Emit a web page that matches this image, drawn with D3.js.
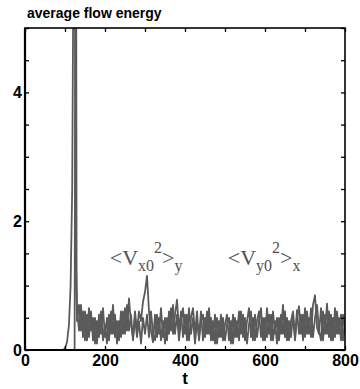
<!DOCTYPE html>
<html>
<head>
<meta charset="utf-8">
<script src="https://cdnjs.cloudflare.com/ajax/libs/d3/7.8.5/d3.min.js"></script>
<style>
  body { margin: 0; background: #fff; }
  svg { display: block; }
</style>
</head>
<body>
<div id="chart"></div>
<script>
var W = 360, H = 389;
var margin = {left: 25, right: 15, top: 28, bottom: 39};

// axis ticks
var xMajor = [0, 200, 400, 600, 800];
var xMinor = [0, 100, 200, 300, 400, 500, 600, 700, 800];
var yMajor = [0, 2, 4];
var yMinor = [0, 0.5, 1, 1.5, 2, 2.5, 3, 3.5, 4, 4.5, 5];

// <Vx0^2>_y : onset and spike
var vxEarlyT = [0, 95, 100, 105, 110, 114, 118, 121, 124, 127];
var vxEarlyV = [0, 0, 0.03, 0.12, 0.4, 1.0, 2.5, 6, 8, 1.5];
// <Vy0^2>_x : onset and spike
var vyEarlyT = [0, 124, 126, 127.5, 129];
var vyEarlyV = [0, 0, 6, 8, 1.0];

// saturated phase, sampled every 5 from t = 130
var tStart = 130, tStep = 5;
var vxNoise = [0.65,0.3,0.7,0.2,0.6,0.15,0.65,0.3,0.5,0.1,0.45,0.2,0.6,0.15,0.4,0.1,0.55,0.25,0.7,0.2,
  0.45,0.15,0.6,0.25,0.65,0.3,0.8,0.4,0.2,0.6,0.3,0.6,0.45,0.75,0.9,1.15,0.6,0.3,0.12,0.55,
  0.2,0.5,0.15,0.45,0.1,0.5,0.25,0.65,0.25,0.55,0.78,0.3,0.6,0.2,0.55,0.15,0.65,0.25,0.5,0.1,
  0.45,0.2,0.6,0.15,0.5,0.25,0.65,0.15,0.45,0.1,0.5,0.2,0.55,0.15,0.4,0.55,0.15,0.45,0.1,0.5,
  0.2,0.6,0.25,0.55,0.15,0.45,0.65,0.2,0.5,0.15,0.45,0.6,0.2,0.5,0.15,0.65,0.25,0.55,0.15,0.45,
  0.1,0.5,0.25,0.7,0.2,0.5,0.15,0.45,0.6,0.2,0.62,0.25,0.55,0.15,0.65,0.25,0.5,0.2,0.7,0.85,
  0.35,0.25,0.65,0.15,0.55,0.25,0.6,0.15,0.5,0.2,0.6,0.25,0.55,0.15,0.45];
var vyNoise = [0.45,0.7,0.3,0.6,0.15,0.55,0.2,0.6,0.15,0.5,0.1,0.55,0.25,0.65,0.2,0.5,0.15,0.6,0.25,0.55,
  0.1,0.45,0.2,0.6,0.25,0.7,0.3,0.55,0.15,0.5,0.2,0.45,0.1,0.5,0.25,0.55,0.2,0.6,0.25,0.15,
  0.55,0.25,0.65,0.2,0.5,0.15,0.6,0.3,0.7,0.25,0.55,0.15,0.45,0.65,0.25,0.55,0.15,0.5,0.65,0.25,
  0.6,0.15,0.45,0.55,0.2,0.6,0.25,0.5,0.15,0.55,0.1,0.45,0.2,0.5,0.15,0.4,0.5,0.1,0.55,0.2,
  0.45,0.15,0.6,0.2,0.5,0.1,0.4,0.6,0.15,0.55,0.2,0.45,0.65,0.15,0.5,0.2,0.55,0.15,0.6,0.25,
  0.5,0.15,0.55,0.25,0.6,0.15,0.45,0.2,0.55,0.15,0.5,0.68,0.25,0.55,0.2,0.6,0.25,0.65,0.2,0.5,
  0.7,0.3,0.15,0.6,0.25,0.72,0.2,0.55,0.15,0.65,0.25,0.5,0.15,0.55,0.25];

function series(earlyT, earlyV, noise) {
  var pts = earlyT.map(function(t, i) { return [t, earlyV[i]]; });
  noise.forEach(function(v, i) { pts.push([tStart + i * tStep, v]); });
  return pts;
}
var lines = [series(vxEarlyT, vxEarlyV, vxNoise), series(vyEarlyT, vyEarlyV, vyNoise)];

var svg = d3.select("#chart").append("svg").attr("width", W).attr("height", H);
var pw = W - margin.left - margin.right, ph = H - margin.top - margin.bottom;
var x = d3.scaleLinear().domain([0, 800]).range([margin.left, margin.left + pw]);
var y = d3.scaleLinear().domain([0, 5]).range([margin.top + ph, margin.top]);

svg.append("clipPath").attr("id", "clip")
  .append("rect").attr("x", margin.left).attr("y", margin.top).attr("width", pw).attr("height", ph);

// data lines
var line = d3.line().x(function(d) { return x(d[0]); }).y(function(d) { return y(d[1]); });
svg.append("g").attr("clip-path", "url(#clip)")
  .selectAll("path").data(lines).enter().append("path")
    .attr("d", line)
    .style("fill", "none").style("stroke", "#5a5a5a").style("stroke-width", 1.8)
    .style("stroke-linejoin", "round");

// inside ticks on all four sides
function ticks(axis, transform) {
  var g = svg.append("g").attr("transform", transform).call(axis);
  g.select(".domain").remove();
  g.selectAll("line").style("stroke", "#000").style("stroke-width", 1.3);
}
ticks(d3.axisBottom(x).tickValues(xMinor).tickSize(-4).tickFormat(""), "translate(0," + y(0) + ")");
ticks(d3.axisTop(x).tickValues(xMinor).tickSize(-4).tickFormat(""), "translate(0," + y(5) + ")");
ticks(d3.axisLeft(y).tickValues(yMinor).tickSize(-4).tickFormat(""), "translate(" + x(0) + ",0)");
ticks(d3.axisRight(y).tickValues(yMinor).tickSize(-4).tickFormat(""), "translate(" + x(800) + ",0)");

// frame
svg.append("rect").attr("x", x(0)).attr("y", y(5)).attr("width", pw).attr("height", ph)
  .style("fill", "none").style("stroke", "#000").style("stroke-width", 1.6);
svg.append("line").attr("x1", x(0)).attr("x2", x(0)).attr("y1", y(5)).attr("y2", y(0))
  .style("stroke", "#000").style("stroke-width", 2.2);
svg.append("line").attr("x1", x(0)).attr("x2", x(800)).attr("y1", y(0)).attr("y2", y(0))
  .style("stroke", "#000").style("stroke-width", 2.2);

// tick labels
function labels(axis, transform) {
  var g = svg.append("g").attr("transform", transform).call(axis);
  g.select(".domain").remove();
  g.selectAll("line").remove();
  g.selectAll("text").style("font-family", "'Liberation Sans', Arial, sans-serif")
    .style("font-weight", "bold").style("font-size", "16px").style("fill", "#000");
}
labels(d3.axisBottom(x).tickValues(xMajor).tickSize(0).tickPadding(5).tickFormat(d3.format("d")),
  "translate(0," + y(0) + ")");
labels(d3.axisLeft(y).tickValues(yMajor).tickSize(0).tickPadding(3).tickFormat(d3.format("d")),
  "translate(" + x(0) + ",0)");

// axis title and chart title
svg.append("text").attr("x", x(400)).attr("y", 384).attr("text-anchor", "middle")
  .style("font-family", "'Liberation Sans', Arial, sans-serif").style("font-weight", "bold")
  .style("font-size", "17px").text("t");
svg.append("text").attr("x", 27).attr("y", 18)
  .style("font-family", "'Liberation Sans', Arial, sans-serif").style("font-weight", "bold")
  .style("font-size", "14px").text("average flow energy");

// series annotations
function annot(tx, sub, post) {
  var t = svg.append("text").attr("x", x(tx)).attr("y", y(1.32))
    .style("font-family", "'Liberation Serif', 'Times New Roman', serif")
    .style("font-size", "22px").style("fill", "#505050");
  t.append("tspan").text("<V");
  t.append("tspan").attr("dy", 6).style("font-size", "16px").text(sub);
  t.append("tspan").attr("dy", -18).style("font-size", "16px").text("2");
  t.append("tspan").attr("dy", 12).text(">");
  t.append("tspan").attr("dy", 6).style("font-size", "16px").text(post);
}
annot(212, "x0", "y");
annot(507, "y0", "x");
</script>
</body>
</html>
